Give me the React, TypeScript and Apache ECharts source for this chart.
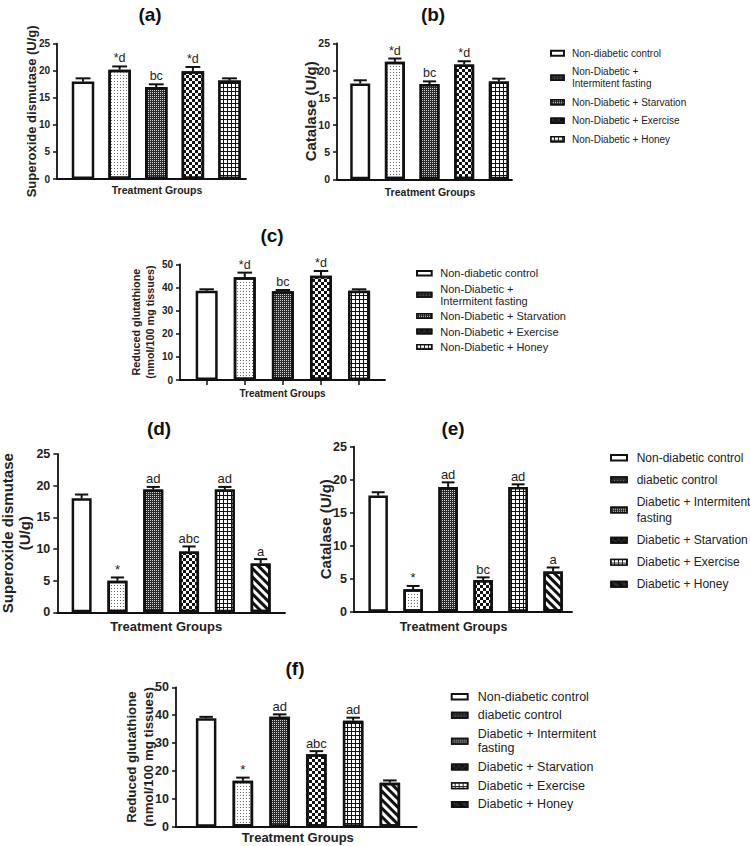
import React, { useEffect, useRef } from "react";
import * as echarts from "echarts";

// ---------- data ----------
const GROUPS_ND = [
  "Non-diabetic control",
  "Non-Diabetic +\nIntermitent fasting",
  "Non-Diabetic + Starvation",
  "Non-Diabetic + Exercise",
  "Non-Diabetic + Honey",
];
const GROUPS_D = [
  "Non-diabetic control",
  "diabetic control",
  "Diabetic + Intermitent\nfasting",
  "Diabetic + Starvation",
  "Diabetic + Exercise",
  "Diabetic + Honey",
];

const SOD_ND = [18.0, 20.2, 17.0, 19.9, 18.2];
const SOD_ND_ERR = [0.6, 0.6, 0.5, 0.8, 0.4];
const CAT_ND = [17.6, 21.6, 17.5, 21.1, 18.0];
const CAT_ND_ERR = [0.6, 0.6, 0.5, 0.6, 0.5];
const GSH_ND = [38.6, 44.4, 38.3, 45.0, 38.6];
const GSH_ND_ERR = [0.6, 2.0, 0.6, 2.1, 0.6];
const LABELS_ND = ["", "*d", "bc", "*d", ""];

const SOD_D = [18.0, 5.0, 19.4, 9.6, 19.4, 7.7];
const SOD_D_ERR = [0.6, 0.5, 0.4, 0.8, 0.4, 0.7];
const SOD_D_LABELS = ["", "*", "ad", "abc", "ad", "a"];
const CAT_D = [17.6, 3.4, 18.9, 4.8, 18.9, 6.1];
const CAT_D_ERR = [0.5, 0.5, 0.7, 0.4, 0.4, 0.6];
const CAT_D_LABELS = ["", "*", "ad", "bc", "ad", "a"];
const GSH_D = [38.9, 16.5, 39.4, 26.0, 38.0, 15.8];
const GSH_D_ERR = [0.5, 1.1, 0.9, 1.1, 1.1, 0.8];
const GSH_D_LABELS = ["", "*", "ad", "abc", "ad", ""];

const X_NAME = "Treatment Groups";

// ---------- styles ----------
const FONT = "'Liberation Sans', Arial, Helvetica, sans-serif";
const INK = "#111111";

const BAR_STYLES: any[] = [
  { color: "#ffffff" },
  { color: "#ffffff", decal: { symbol: "rect", symbolSize: 1, color: "#6a6a6a", dashArrayX: [1, 2], dashArrayY: [1, 2] } },
  { color: "#2b2b2b", decal: { symbol: "rect", symbolSize: 1, color: "#d0d0d0", dashArrayX: [1, 1], dashArrayY: [1, 1] } },
  { color: "#ffffff", decal: { symbol: "rect", symbolSize: 1, color: INK, dashArrayX: [[3, 3], [0, 3, 3, 0]], dashArrayY: [3, 0] } },
  { color: INK, decal: { symbol: "rect", symbolSize: 1, color: "#ffffff", dashArrayX: [3, 1], dashArrayY: [3, 1] } },
  { color: "#ffffff", decal: { symbol: "rect", symbolSize: 1, color: INK, dashArrayX: [1, 0], dashArrayY: [3, 3], rotation: Math.PI / 4 } },
];

const PANELS = [
  {
    title: "(a)", tx: 150, ty: 14, groups: GROUPS_ND, means: SOD_ND, errs: SOD_ND_ERR, labels: LABELS_ND,
    yName: "Superoxide dismutase (U/g)", yMax: 25, yInterval: 5,
    grid: { left: 57, top: 43.7, width: 189, height: 135.3 }, xMin: -0.71, xMax: 4.45,
    barWidth: 22.5, tickFont: 10, yNameFont: 13, yNameLH: 15, yNameGap: 18,
    xNameFont: 10.5, xNameGap: 4.5, xNamePad: [0, 0, 0, 11], labelFont: 12.5, xTicks: false,
  },
  {
    title: "(b)", tx: 433, ty: 14, groups: GROUPS_ND, means: CAT_ND, errs: CAT_ND_ERR, labels: LABELS_ND,
    yName: "Catalase (U/g)", yMax: 25, yInterval: 5,
    grid: { left: 337, top: 43.3, width: 175, height: 136 }, xMin: -0.67, xMax: 4.38,
    barWidth: 20, tickFont: 10.5, yNameFont: 15, yNameLH: 17, yNameGap: 18,
    xNameFont: 10.5, xNameGap: 6, xNamePad: [0, 0, 0, 11], labelFont: 12.5, xTicks: false,
  },
  {
    title: "(c)", tx: 272, ty: 235, groups: GROUPS_ND, means: GSH_ND, errs: GSH_ND_ERR, labels: LABELS_ND,
    yName: "Reduced glutathione\n(nmol/100 mg tissues)", yMax: 50, yInterval: 10,
    grid: { left: 180, top: 264.3, width: 205, height: 115.7 }, xMin: -0.7, xMax: 4.68,
    barWidth: 22, tickFont: 10, yNameFont: 10.8, yNameLH: 14.3, yNameGap: 22.5,
    xNameFont: 10, xNameGap: 7, xNamePad: [0, 0, 0, 0], labelFont: 12.5, xTicks: true,
  },
  {
    title: "(d)", tx: 159, ty: 428, groups: GROUPS_D, means: SOD_D, errs: SOD_D_ERR, labels: SOD_D_LABELS,
    yName: "Superoxide dismutase\n(U/g)", yMax: 25, yInterval: 5,
    grid: { left: 57.3, top: 454, width: 227.7, height: 158.3 }, xMin: -0.68, xMax: 5.68,
    barWidth: 20, tickFont: 12.5, yNameFont: 15, yNameLH: 17, yNameGap: 24,
    xNameFont: 13, xNameGap: 7, xNamePad: [0, 10, 0, 0], labelFont: 13, xTicks: false,
  },
  {
    title: "(e)", tx: 453, ty: 428, groups: GROUPS_D, means: CAT_D, errs: CAT_D_ERR, labels: CAT_D_LABELS,
    yName: "Catalase (U/g)", yMax: 25, yInterval: 5,
    grid: { left: 354, top: 446.7, width: 218, height: 165 }, xMin: -0.69, xMax: 5.54,
    barWidth: 19.5, tickFont: 12.5, yNameFont: 15, yNameLH: 17, yNameGap: 20.5,
    xNameFont: 12.5, xNameGap: 8, xNamePad: [0, 19, 0, 0], labelFont: 13, xTicks: false,
  },
  {
    title: "(f)", tx: 295, ty: 668, groups: GROUPS_D, means: GSH_D, errs: GSH_D_ERR, labels: GSH_D_LABELS,
    yName: "Reduced glutathione\n(nmol/100 mg tissues)", yMax: 50, yInterval: 10,
    grid: { left: 176, top: 687.3, width: 240.7, height: 139.4 }, xMin: -0.82, xMax: 5.73,
    barWidth: 20.5, tickFont: 12.5, yNameFont: 13.3, yNameLH: 16.6, yNameGap: 19.4,
    xNameFont: 13, xNameGap: 3.5, xNamePad: [0, 0, 0, 3], labelFont: 13, xTicks: false,
  },
];

const LEGENDS = [
  { groups: GROUPS_ND, left: 550, top: 47.3, itemWidth: 13, itemHeight: 5, itemGap: 6.5, fontSize: 10, lineHeight: 12, pad: 3 },
  { groups: GROUPS_ND, left: 416, top: 267.5, itemWidth: 14.7, itemHeight: 4.5, itemGap: 3.8, fontSize: 11, lineHeight: 11.7, pad: 3.6 },
  { groups: GROUPS_D, left: 610, top: 449.4, itemWidth: 16, itemHeight: 5.5, itemGap: 5.4, fontSize: 12, lineHeight: 16.6, pad: 4.7 },
  { groups: GROUPS_D, left: 450.7, top: 689.5, itemWidth: 16, itemHeight: 5.5, itemGap: 4.4, fontSize: 12.5, lineHeight: 14.3, pad: 5 },
];

function buildOption() {
  const grid: any[] = [];
  const xAxis: any[] = [];
  const yAxis: any[] = [];
  const series: any[] = [];
  const graphic: any[] = [];
  const axisLineStyle = { color: INK, width: 1.8 };

  PANELS.forEach((p, pi) => {
    grid.push({ ...p.grid, containLabel: false, outerBoundsMode: "none" });
    xAxis.push({
      gridIndex: pi,
      type: "value",
      min: p.xMin,
      max: p.xMax,
      axisLine: { show: true, onZero: true, lineStyle: axisLineStyle },
      axisTick: p.xTicks
        ? { show: true, customValues: p.groups.map((_, i) => i), length: 5, lineStyle: { color: INK, width: 1.5 } }
        : { show: false },
      axisLabel: { show: false },
      splitLine: { show: false },
      name: X_NAME,
      nameLocation: "middle",
      nameGap: p.xNameGap,
      nameMoveOverlap: false,
      nameTextStyle: {
        fontSize: p.xNameFont, fontWeight: "bold", fontFamily: FONT, color: "#222",
        lineHeight: p.xNameFont + 2, padding: p.xNamePad,
      },
    });
    yAxis.push({
      gridIndex: pi,
      type: "value",
      min: 0,
      max: p.yMax,
      interval: p.yInterval,
      axisLine: { show: true, onZero: false, lineStyle: axisLineStyle },
      axisTick: { show: true, length: 4, lineStyle: { color: INK, width: 1.5 } },
      axisLabel: { fontSize: p.tickFont, fontWeight: "bold", color: "#222", margin: 7, fontFamily: FONT },
      splitLine: { show: false },
      name: p.yName,
      nameLocation: "middle",
      nameGap: p.yNameGap,
      nameMoveOverlap: false,
      nameTextStyle: {
        fontSize: p.yNameFont, fontWeight: "bold", fontFamily: FONT, color: "#222", lineHeight: p.yNameLH,
      },
    });
    p.groups.forEach((g, i) => {
      series.push({
        type: "bar",
        name: g,
        xAxisIndex: pi,
        yAxisIndex: pi,
        barWidth: p.barWidth,
        barGap: "-100%",
        data: [[i, p.means[i]]],
        itemStyle: { ...BAR_STYLES[i], borderColor: INK, borderWidth: 2.5 },
        emphasis: { disabled: true },
        z: 2,
      });
    });
    const capHalf = p.barWidth * 0.33;
    const labels = p.labels;
    const labelFont = p.labelFont;
    series.push({
      type: "custom",
      xAxisIndex: pi,
      yAxisIndex: pi,
      silent: true,
      z: 3,
      data: p.means.map((m, i) => [i, m, p.errs[i]]),
      encode: { x: 0, y: 1 },
      renderItem: (params: any, api: any) => {
        const x = api.value(0);
        const m = api.value(1);
        const e = api.value(2);
        const p0 = api.coord([x, m]);
        const p1 = api.coord([x, m + e]);
        const lbl = labels[params.dataIndex] || "";
        const lineStyle = { stroke: INK, lineWidth: 2 };
        return {
          type: "group",
          children: [
            { type: "line", shape: { x1: p0[0], y1: p0[1], x2: p1[0], y2: p1[1] }, style: lineStyle },
            { type: "line", shape: { x1: p1[0] - capHalf, y1: p1[1], x2: p1[0] + capHalf, y2: p1[1] }, style: lineStyle },
            {
              type: "text",
              x: p1[0],
              y: p1[1] - 1.5,
              style: {
                text: lbl, fontSize: labelFont, fontFamily: FONT, fill: "#222",
                align: "center", verticalAlign: "bottom",
              },
            },
          ],
        };
      },
    });
    graphic.push({
      type: "text",
      x: p.tx,
      y: p.ty,
      style: {
        text: p.title, fontSize: 19, fontWeight: "bold", fontFamily: FONT, fill: INK,
        align: "center", verticalAlign: "middle",
      },
    });
  });

  const legend = LEGENDS.map((l) => ({
    data: l.groups.map((name, i) => ({
      name,
      itemStyle: i === 0
        ? { color: "#ffffff", borderColor: INK, borderWidth: 2 }
        : { color: "#2a2a2a", borderColor: INK, borderWidth: 1.5 },
    })),
    orient: "vertical",
    left: l.left,
    top: l.top,
    itemWidth: l.itemWidth,
    itemHeight: l.itemHeight,
    itemGap: l.itemGap,
    icon: "rect",
    selectedMode: false,
    padding: 0,
    textStyle: {
      fontSize: l.fontSize, lineHeight: l.lineHeight, fontFamily: FONT, color: "#222",
      padding: [0, 0, 0, l.pad],
    },
  }));

  return {
    animation: false,
    backgroundColor: "#ffffff",
    textStyle: { fontFamily: FONT },
    grid,
    xAxis,
    yAxis,
    legend,
    series,
    graphic,
  };
}

export default function App() {
  const ref = useRef<HTMLDivElement>(null);
  useEffect(() => {
    document.body.style.margin = "0";
    if (!ref.current) return;
    const chart = echarts.init(ref.current, null, { renderer: "svg" });
    chart.setOption(buildOption() as any);
    return () => chart.dispose();
  }, []);
  return <div ref={ref} style={{ width: 750, height: 846 }} />;
}
